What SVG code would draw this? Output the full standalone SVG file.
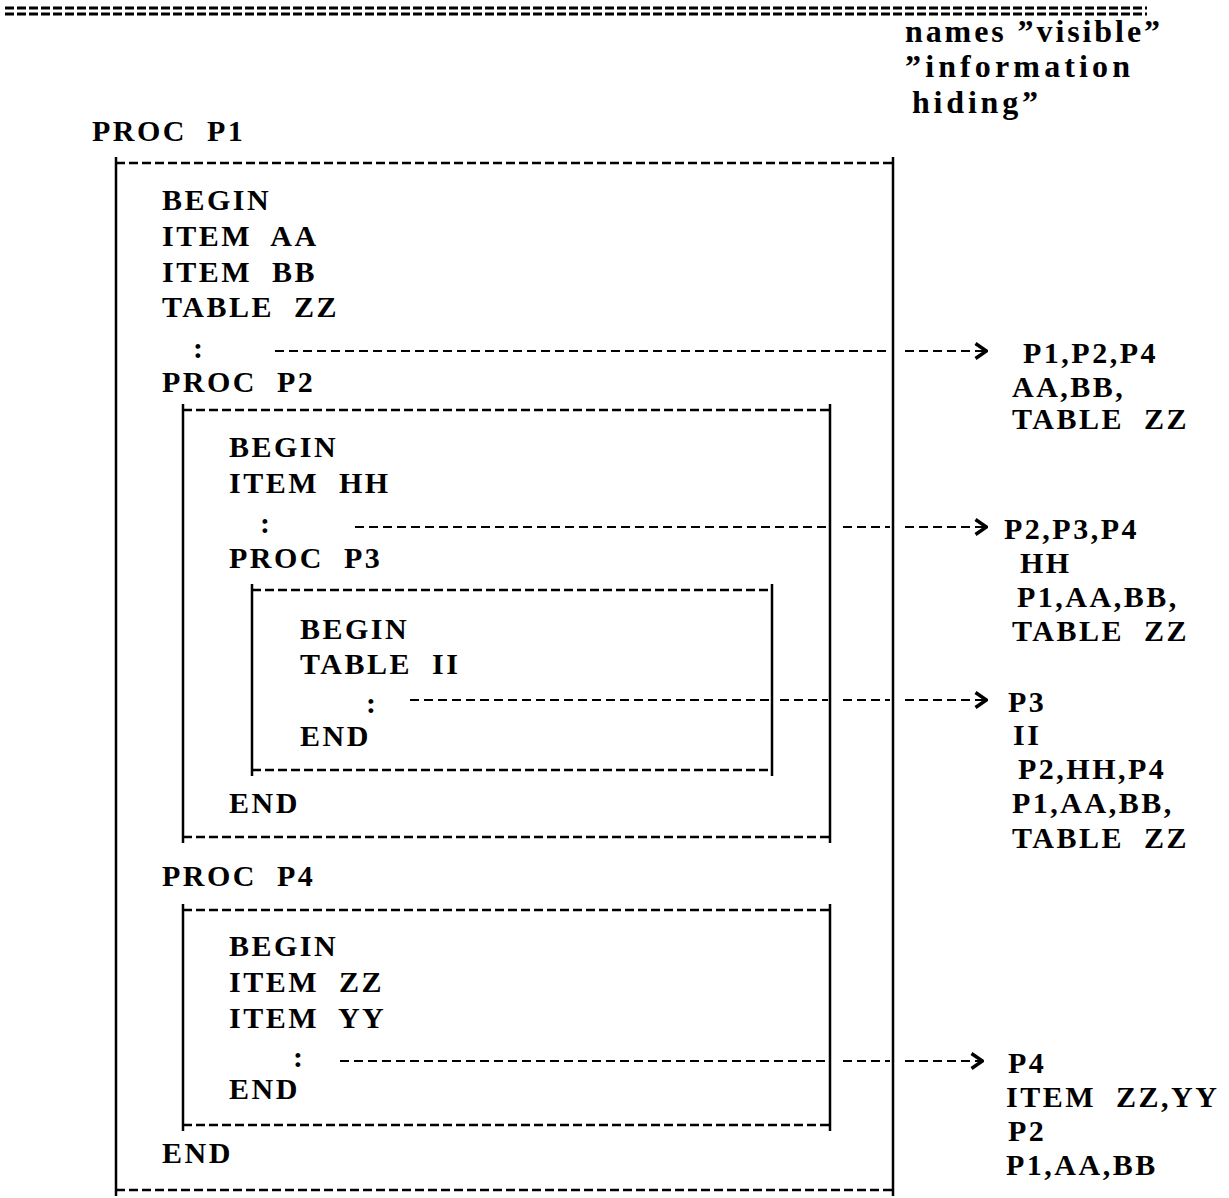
<svg xmlns="http://www.w3.org/2000/svg" width="1229" height="1198" viewBox="0 0 1229 1198">
<defs>
<style>
text{font-family:"Liberation Serif","Times New Roman",serif;font-weight:bold;font-size:30px;fill:#000;letter-spacing:2.5px;word-spacing:10px}
.hdr{font-size:32px;letter-spacing:0;word-spacing:0}
.solid{stroke:#000;stroke-width:2.5;fill:none}
.dash{stroke:#000;stroke-width:2.5;fill:none;stroke-dasharray:9 4}
.conn{stroke:#000;stroke-width:2.2;fill:none;stroke-dasharray:9 5}
.sep{stroke:#000;stroke-width:3;fill:none;stroke-dasharray:9 3}
</style>
<marker id="chev" viewBox="0 0 14 18" refX="13" refY="9" markerWidth="14" markerHeight="18" markerUnits="userSpaceOnUse" orient="auto">
<path d="M1.5,1.5 L12.5,9 L1.5,16.5" stroke="#000" stroke-width="3.5" fill="none"/>
</marker>
</defs>
<rect width="1229" height="1198" fill="#fff"/>
<g id="separator">
<line class="sep" x1="5" y1="8" x2="1147" y2="8"/>
<line class="sep" x1="5" y1="14" x2="1147" y2="14"/>
</g>
<g id="header">
<text class="hdr" x="905" y="42" textLength="255" lengthAdjust="spacing">names ”visible”</text>
<text class="hdr" x="905" y="77" textLength="225" lengthAdjust="spacing">”information</text>
<text class="hdr" x="912" y="113" textLength="126" lengthAdjust="spacing">hiding”</text>
</g>
<g id="P1">
<text x="92" y="141">PROC P1</text>
<line class="dash" x1="116" y1="163" x2="893" y2="163"/>
<line class="dash" x1="116" y1="1190" x2="893" y2="1190"/>
<line class="solid" x1="116" y1="157" x2="116" y2="1196"/>
<line class="solid" x1="893" y1="157" x2="893" y2="1196"/>
<text x="162" y="210">BEGIN</text>
<text x="162" y="246">ITEM AA</text>
<text x="162" y="282">ITEM BB</text>
<text x="162" y="317">TABLE ZZ</text>
<text x="193" y="358">:</text>
<text x="162" y="392">PROC P2</text>
<text x="162" y="886">PROC P4</text>
<text x="162" y="1163">END</text>
</g>
<g id="P2">
<line class="dash" x1="183" y1="410" x2="830" y2="410"/>
<line class="dash" x1="183" y1="837" x2="830" y2="837"/>
<line class="solid" x1="183" y1="404" x2="183" y2="843"/>
<line class="solid" x1="830" y1="404" x2="830" y2="843"/>
<text x="229" y="457">BEGIN</text>
<text x="229" y="493">ITEM HH</text>
<text x="260" y="533">:</text>
<text x="229" y="568">PROC P3</text>
<text x="229" y="813">END</text>
</g>
<g id="P3">
<line class="dash" x1="252" y1="590" x2="772" y2="590"/>
<line class="dash" x1="252" y1="770" x2="772" y2="770"/>
<line class="solid" x1="252" y1="584" x2="252" y2="776"/>
<line class="solid" x1="772" y1="584" x2="772" y2="776"/>
<text x="300" y="639">BEGIN</text>
<text x="300" y="674">TABLE II</text>
<text x="366" y="713">:</text>
<text x="300" y="746">END</text>
</g>
<g id="P4">
<line class="dash" x1="183" y1="910" x2="830" y2="910"/>
<line class="dash" x1="183" y1="1125" x2="830" y2="1125"/>
<line class="solid" x1="183" y1="904" x2="183" y2="1131"/>
<line class="solid" x1="830" y1="904" x2="830" y2="1131"/>
<text x="229" y="956">BEGIN</text>
<text x="229" y="992">ITEM ZZ</text>
<text x="229" y="1028">ITEM YY</text>
<text x="293" y="1067">:</text>
<text x="229" y="1099">END</text>
</g>
<g id="connectors">
<path class="conn" d="M275,351 H890 M905,351 H987" marker-end="url(#chev)"/>
<path class="conn" d="M355,527 H828 M843,527 H890 M905,527 H987" marker-end="url(#chev)"/>
<path class="conn" d="M410,700 H770 M780,700 H828 M843,700 H890 M905,700 H987" marker-end="url(#chev)"/>
<path class="conn" d="M340,1061 H828 M843,1061 H890 M905,1061 H983" marker-end="url(#chev)"/>
</g>
<g id="visible1">
<text x="1023" y="363">P1,P2,P4</text>
<text x="1012" y="397">AA,BB,</text>
<text x="1012" y="429">TABLE ZZ</text>
</g>
<g id="visible2">
<text x="1004" y="539">P2,P3,P4</text>
<text x="1020" y="573">HH</text>
<text x="1017" y="607">P1,AA,BB,</text>
<text x="1012" y="641">TABLE ZZ</text>
</g>
<g id="visible3">
<text x="1008" y="712">P3</text>
<text x="1013" y="745">II</text>
<text x="1018" y="779">P2,HH,P4</text>
<text x="1012" y="813">P1,AA,BB,</text>
<text x="1012" y="848">TABLE ZZ</text>
</g>
<g id="visible4">
<text x="1008" y="1073">P4</text>
<text x="1006" y="1107">ITEM ZZ,YY</text>
<text x="1008" y="1141">P2</text>
<text x="1006" y="1175">P1,AA,BB</text>
</g>
</svg>
